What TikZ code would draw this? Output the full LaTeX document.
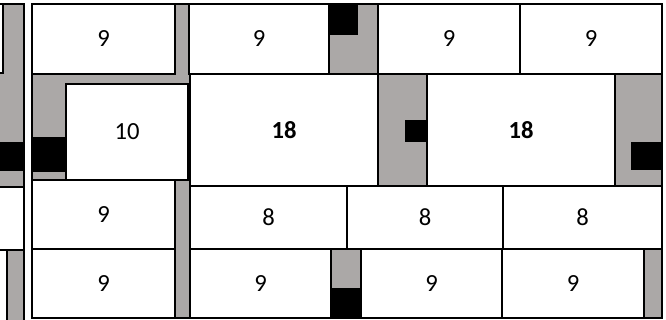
\documentclass[tikz,border=0pt]{standalone}
\usepackage{fontspec}
\setmainfont{Carlito}
\usetikzlibrary{fit}
\definecolor{mortar}{HTML}{ABA8A7}

\begin{document}
\begin{tikzpicture}[
    x=0.03cm, y=-0.03cm,
    brick/.style={draw, fill=white, line width=1.9pt, inner sep=0pt},
    plug/.style={fill=black, inner sep=0pt},
    every label/.style={font=\fontsize{21}{24}\selectfont, inner sep=0pt},
  ]
  \useasboundingbox (0,0) rectangle (666,320);
  \clip (0,0) rectangle (666,320);

  % Left panel (cut off)
  \fill[mortar] (-10,4) rectangle (24,330);
  \draw[line width=1.9pt] (-10,4) -- (24,4) -- (24,330);
  \node[brick, fit={(-20,4) (3,73)}] (l1) {};
  \node[plug, fit={(-10,142) (24,171)}] (lp) {};
  \node[brick, fit={(-20,187) (24,250)}] (l2) {};
  \node[brick, fit={(-20,250) (7,330)}] (l3) {};

  % Main panel
  \node[draw, fill=mortar, line width=1.9pt, inner sep=0pt,
        fit={(32,4) (662,318)}] (wall) {};

  % Black plugs
  \node[plug, fit={(329,4) (358,35)}] (p1) {};
  \node[plug, fit={(33,137) (66,172)}] (p2) {};
  \node[plug, fit={(405,120) (427,142)}] (p3) {};
  \node[plug, fit={(631,142) (662,170)}] (p4) {};
  \node[plug, fit={(331,288) (361,318)}] (p5) {};

  % Row 1
  \node[brick, fit={(32,4) (175,74)}, label=center:9] (a1) {};
  \node[brick, fit={(189,4) (329,74)}, label=center:9] (a2) {};
  \node[brick, fit={(378,4) (520,74)}, label=center:9] (a3) {};
  \node[brick, fit={(520,4) (662,74)}, label=center:9] (a4) {};

  % Row 2
  \node[brick, fit={(66,84) (188,180)}, label=center:10] (b1) {};
  \node[brick, fit={(190,74) (378,186)}, label={[font=\fontsize{21}{24}\selectfont\bfseries]center:18}] (b2) {};
  \node[brick, fit={(427,74) (615,186)}, label={[font=\fontsize{21}{24}\selectfont\bfseries]center:18}] (b3) {};

  % Row 3
  \node[brick, fit={(32,180) (175,249)}, label=center:9] (c1) {};
  \node[brick, fit={(190,186) (347,249)}, label=center:8] (c2) {};
  \node[brick, fit={(347,186) (503,249)}, label=center:8] (c3) {};
  \node[brick, fit={(503,186) (662,249)}, label=center:8] (c4) {};

  % Row 4
  \node[brick, fit={(32,249) (175,318)}, label=center:9] (d1) {};
  \node[brick, fit={(190,249) (331,318)}, label=center:9] (d2) {};
  \node[brick, fit={(361,249) (502,318)}, label=center:9] (d3) {};
  \node[brick, fit={(502,249) (644,318)}, label=center:9] (d4) {};

\end{tikzpicture}
\end{document}
